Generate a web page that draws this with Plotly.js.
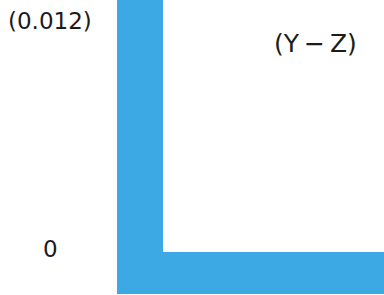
<!DOCTYPE html>
<html>
<head>
<meta charset="utf-8">
<script src="https://cdn.plot.ly/plotly-3.0.1.min.js"></script>
<style>html,body{margin:0;padding:0;background:#fff;}#chart{width:384px;height:295px;}</style>
</head>
<body>
<div id="chart"></div>
<script>
// Y-axis tick values and their labels
var yTickVals = [0, 0.012];
var yTickLabels = ['0', '(0.012)'];
// Axis range
var yRange = [-0.00016, 0.0131];
var xRange = [0, 1];
// Plot label
var plotLabel = '(Y\u2009\u2212\u2009Z)';

var axisBlue = '#3ca9e4';
var textFont = {family: 'DejaVu Sans', size: 23, color: '#1c1c1c'};

var annotations = yTickVals.map(function (v, i) {
  return {
    xref: 'paper', yref: 'y', x: -0.51, y: v,
    xanchor: 'center', yanchor: 'middle',
    text: yTickLabels[i], showarrow: false, font: textFont
  };
});
annotations.push({
  xref: 'paper', yref: 'paper', x: 0.69, y: 0.826,
  xanchor: 'center', yanchor: 'middle',
  text: plotLabel, showarrow: false,
  font: {family: 'DejaVu Sans', size: 25, color: '#1c1c1c'}
});

var data = [{x: [], y: [], type: 'scatter', mode: 'markers', hoverinfo: 'skip', showlegend: false}];

var layout = {
  width: 384, height: 295,
  margin: {l: 163, r: 0, t: 0, b: 43},
  paper_bgcolor: '#fff', plot_bgcolor: '#fff',
  showlegend: false,
  xaxis: {range: xRange, showline: true, linewidth: 42, linecolor: axisBlue,
          showgrid: false, zeroline: false, showticklabels: false, ticks: ''},
  yaxis: {range: yRange, showline: true, linewidth: 46, linecolor: axisBlue,
          showgrid: false, zeroline: false, showticklabels: false, ticks: '',
          tickvals: yTickVals},
  annotations: annotations
};

Plotly.newPlot('chart', data, layout, {staticPlot: true, displayModeBar: false});
</script>
</body>
</html>
